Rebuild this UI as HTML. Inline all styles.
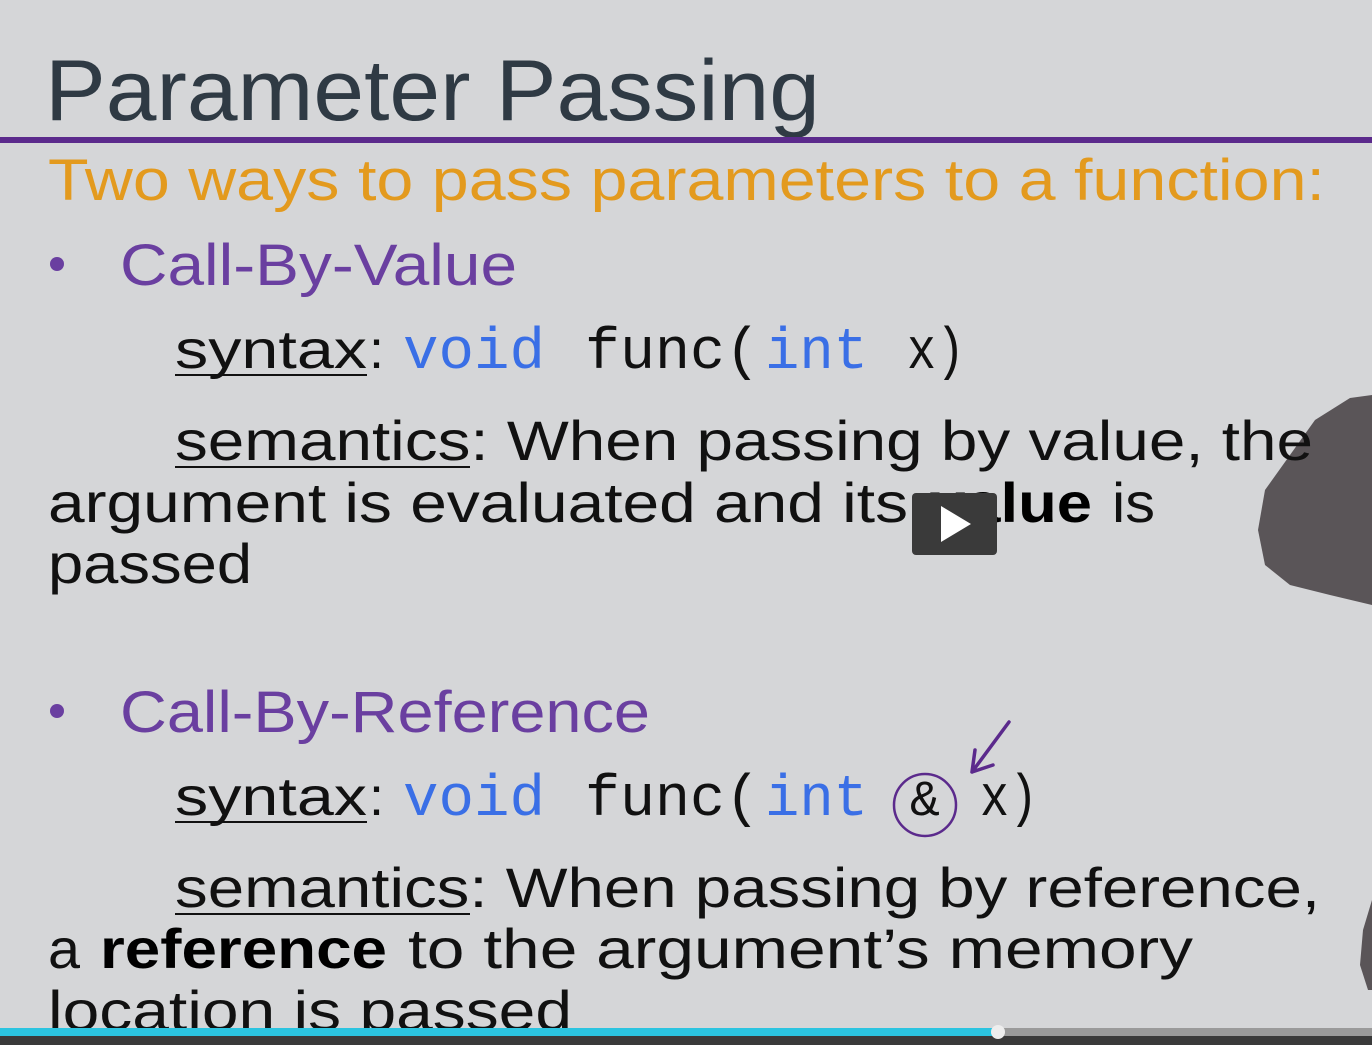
<!DOCTYPE html>
<html><head><meta charset="utf-8"><style>
html,body{margin:0;padding:0;background:#d5d6d8;overflow:hidden}
svg{display:block}
.s{font-family:"Liberation Sans",sans-serif}
.m{font-family:"Liberation Mono",monospace}
</style></head><body>
<svg width="1372" height="1045" viewBox="0 0 1372 1045" xmlns="http://www.w3.org/2000/svg">
<rect width="1372" height="1045" fill="#d5d6d8"/>
<!-- person blobs -->
<path d="M1372 395 L1350 398 L1315 420 L1290 455 L1265 490 L1258 530 L1265 565 L1290 585 L1330 595 L1372 605 Z" fill="#5a5558"/>
<path d="M1372 900 L1363 930 L1360 965 L1368 990 L1372 990 Z" fill="#5a5558"/>
<text class="s" x="45" y="120" font-size="86" fill="#2f3a44" textLength="775" lengthAdjust="spacingAndGlyphs">Parameter Passing</text>
<rect x="0" y="137" width="1372" height="6" fill="#5b2a8c"/>
<text class="s" x="48" y="200" font-size="58" fill="#e39a1e" textLength="1277" lengthAdjust="spacingAndGlyphs">Two ways to pass parameters to a function:</text>
<circle cx="57" cy="264" r="7" fill="#6a3fa0"/>
<text class="s" x="120" y="285" font-size="58" fill="#6a3fa0" textLength="397" lengthAdjust="spacingAndGlyphs">Call-By-Value</text>
<text class="s" x="175" y="368" font-size="54" fill="#111" textLength="192" lengthAdjust="spacingAndGlyphs">syntax</text>
<rect x="175" y="374" width="192" height="2" fill="#111"/>
<text class="s" x="369" y="368" font-size="54" fill="#111">:</text>
<text class="m" x="403" y="368" font-size="58" fill="#3a6fe6" textLength="142" lengthAdjust="spacingAndGlyphs">void</text>
<text class="m" x="585" y="368" font-size="58" fill="#111" textLength="175" lengthAdjust="spacingAndGlyphs">func(</text>
<text class="m" x="765" y="368" font-size="58" fill="#3a6fe6" textLength="103" lengthAdjust="spacingAndGlyphs">int</text>
<text class="m" x="907" y="368" font-size="58" fill="#111" textLength="58" lengthAdjust="spacingAndGlyphs">x)</text>
<text class="s" x="175" y="460" font-size="56" fill="#111" textLength="1138" lengthAdjust="spacingAndGlyphs">semantics: When passing by value, the</text>
<rect x="175" y="466" width="295" height="2" fill="#111"/>
<text class="s" x="48" y="522" font-size="56" fill="#111" textLength="860" lengthAdjust="spacingAndGlyphs">argument is evaluated and its</text>
<text class="s" x="930" y="522" font-size="56" fill="#000" font-weight="bold" textLength="162" lengthAdjust="spacingAndGlyphs">value</text>
<text class="s" x="1112" y="522" font-size="56" fill="#111" textLength="43" lengthAdjust="spacingAndGlyphs">is</text>
<text class="s" x="48" y="583" font-size="56" fill="#111" textLength="204" lengthAdjust="spacingAndGlyphs">passed</text>
<rect x="912" y="493" width="85" height="62" rx="4" fill="#3a3a3a"/>
<path d="M941 506 L941 542 L971 524 Z" fill="#fff"/>
<circle cx="57" cy="711" r="7" fill="#6a3fa0"/>
<text class="s" x="120" y="732" font-size="58" fill="#6a3fa0" textLength="530" lengthAdjust="spacingAndGlyphs">Call-By-Reference</text>
<text class="s" x="175" y="815" font-size="54" fill="#111" textLength="192" lengthAdjust="spacingAndGlyphs">syntax</text>
<rect x="175" y="821" width="192" height="2" fill="#111"/>
<text class="s" x="369" y="815" font-size="54" fill="#111">:</text>
<text class="m" x="403" y="815" font-size="58" fill="#3a6fe6" textLength="142" lengthAdjust="spacingAndGlyphs">void</text>
<text class="m" x="585" y="815" font-size="58" fill="#111" textLength="175" lengthAdjust="spacingAndGlyphs">func(</text>
<text class="m" x="765" y="815" font-size="58" fill="#3a6fe6" textLength="103" lengthAdjust="spacingAndGlyphs">int</text>
<text class="m" x="910" y="815" font-size="50" fill="#111">&amp;</text>
<text class="m" x="980" y="815" font-size="58" fill="#111" textLength="58" lengthAdjust="spacingAndGlyphs">x)</text>
<ellipse cx="925" cy="805" rx="31" ry="31" fill="none" stroke="#5b2a8c" stroke-width="2.5"/>
<path d="M1009 722 L972 772 M972 772 L975 750 M972 772 L993 765" fill="none" stroke="#5b2a8c" stroke-width="3.5" stroke-linecap="round"/>
<text class="s" x="175" y="907" font-size="56" fill="#111" textLength="1145" lengthAdjust="spacingAndGlyphs">semantics: When passing by reference,</text>
<rect x="175" y="913" width="295" height="2" fill="#111"/>
<text class="s" x="48" y="968" font-size="56" fill="#111" textLength="32" lengthAdjust="spacingAndGlyphs">a</text>
<text class="s" x="100" y="968" font-size="56" fill="#000" font-weight="bold" textLength="287" lengthAdjust="spacingAndGlyphs">reference</text>
<text class="s" x="408" y="968" font-size="56" fill="#111" textLength="785" lengthAdjust="spacingAndGlyphs">to the argument’s memory</text>
<text class="s" x="48" y="1030" font-size="56" fill="#111" textLength="524" lengthAdjust="spacingAndGlyphs">location is passed</text>
<rect x="0" y="1028" width="1372" height="8" fill="#9a9a9a"/>
<rect x="0" y="1028" width="998" height="8" fill="#2bc4e0"/>
<rect x="0" y="1036" width="1372" height="9" fill="#3a3a3a"/>
<circle cx="998" cy="1032" r="7" fill="#eee"/>
</svg>
</body></html>
